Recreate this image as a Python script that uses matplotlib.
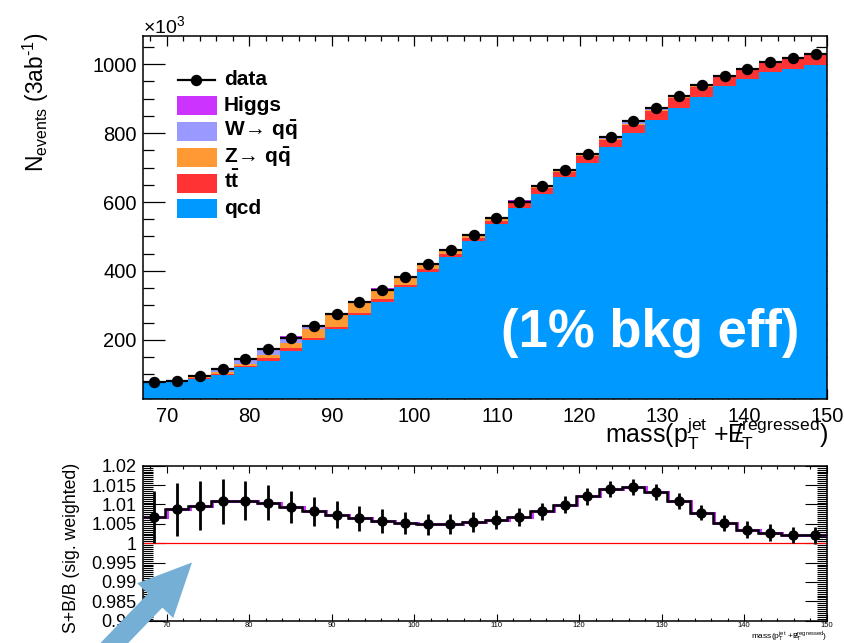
import matplotlib
matplotlib.use("Agg")
import numpy as np
import matplotlib.pyplot as plt
import matplotlib.transforms as mtransforms
from matplotlib.ticker import MultipleLocator, FuncFormatter
from matplotlib.patches import FancyArrow, Rectangle
from matplotlib.lines import Line2D

plt.rcParams["font.family"] = ["Liberation Sans", "DejaVu Sans"]
plt.rcParams["mathtext.fontset"] = "custom"
plt.rcParams["mathtext.rm"] = "Liberation Sans"
plt.rcParams["mathtext.it"] = "Liberation Sans:italic"
plt.rcParams["mathtext.bf"] = "Liberation Sans:bold"
plt.rcParams["mathtext.default"] = "regular"

# ---------------------------------------------------------------- binning
mass_lo, mass_hi, n_bins = 67.1, 150.0, 30

# ---------------------------------------------------------------- stacked yields (x10^3 events, 3 ab^-1)
qcd = [74.5, 77.5, 86.5, 99, 120, 139.5, 168, 198, 231, 271,
       310, 353, 397, 440, 487, 535, 583, 624, 672, 714,
       759, 801, 839, 874, 905, 936, 958, 978, 987, 999]
ttbar = [0.3, 0.5, 1.5, 3, 5, 6.5, 7, 6.5, 7, 6.5,
         7, 7, 8, 9, 8, 11, 13, 16, 14, 21,
         21, 23, 25, 28, 29, 26, 25, 28, 28, 29]
zqq = [0.3, 0.6, 2.5, 4.5, 6, 10, 17, 26, 33, 30,
       29, 23, 16, 13, 10, 6, 6, 5, 6, 3,
       3, 4, 3, 2, 2, 2, 2, 1, 1, 2]
wqq = [0.8, 1.2, 6.5, 11.5, 15.5, 18, 17, 11, 6, 4.5,
       2, 2, 1, 1, 1, 1, 1, 1, 1.5, 1,
       2, 3, 2, 1, 1, 1, 1, 1, 1, 1]
higgs = [0.2, 0.3, 0.4, 0.5, 0.6, 0.7, 0.8, 0.8, 0.9, 0.9,
         0.9, 0.9, 1.0, 1.0, 1.0, 1.0, 2.0, 2.5, 3.0, 4.0,
         7.0, 8.0, 8.0, 5.0, 4.0, 3.0, 2.0, 1.5, 1.0, 1.0]
data = [76, 79.5, 94.5, 114, 143, 172, 206, 239, 274, 310,
        345, 382, 419, 461, 503, 553, 601, 646, 694, 740,
        788, 834, 874, 907, 939, 966, 987, 1007, 1019, 1031]

# ---------------------------------------------------------------- S+B/B (signal weighted)
ratio = [1.0068, 1.0088, 1.0097, 1.0108, 1.0110, 1.0105, 1.0093, 1.0082, 1.0074, 1.0064,
         1.0057, 1.0052, 1.0049, 1.0050, 1.0055, 1.0061, 1.0068, 1.0082, 1.0099, 1.0121,
         1.0140, 1.0145, 1.0133, 1.0109, 1.0079, 1.0052, 1.0035, 1.0027, 1.0021, 1.0020]
ratio_err = [0.00675, 0.00684, 0.00637, 0.00577, 0.00513, 0.00457, 0.00406, 0.00376, 0.00346, 0.00325,
             0.0030, 0.0029, 0.00274, 0.00265, 0.0026, 0.00244, 0.00235, 0.00222, 0.00222, 0.00218,
             0.00214, 0.0020, 0.00205, 0.00205, 0.0019, 0.0020, 0.00214, 0.00214, 0.00205, 0.00214]

# stack order bottom -> top
stack_labels = ["qcd", r"t$\mathbf{\bar{t}}$", r"Z$\!\rightarrow\!$ q$\mathbf{\bar{q}}$",
                r"W$\!\rightarrow\!$ q$\mathbf{\bar{q}}$", "Higgs"]
stack_colors = ["#0099ff", "#ff3333", "#ff9933", "#9999ff", "#cc33ff"]

W, H = 845, 643
fig = plt.figure(figsize=(W / 100, H / 100), dpi=100)
fig.patch.set_facecolor("white")


def fx(x):
    return x / W


def fy(y):
    return 1 - y / H


edges = np.linspace(mass_lo, mass_hi, n_bins + 1)
centers = 0.5 * (edges[1:] + edges[:-1])
half_w = 0.5 * np.diff(edges)

# ================================================================ upper pad
ax = fig.add_axes([fx(142.7), fy(399), fx(827.3) - fx(142.7), fy(35.7) - fy(399)])
ax.set_axisbelow(True)

layers = [qcd, ttbar, zqq, wqq, higgs]
cumulative = np.cumsum(np.array(layers, dtype=float), axis=0)
# draw cumulative sums from the top down so that neighbours share no seam
for k in range(len(layers) - 1, -1, -1):
    ax.stairs(cumulative[k], edges, baseline=0, fill=True,
              color=stack_colors[k], lw=0, zorder=1 + (len(layers) - k) * 0.01)

ax.errorbar(centers, data, xerr=half_w, fmt="o", color="black", ms=7.2,
            elinewidth=1.6, capsize=0, zorder=5)

ax.set_xlim(mass_lo, mass_hi)
ax.set_ylim(28, 1083)
ax.xaxis.set_major_locator(MultipleLocator(10))
ax.xaxis.set_minor_locator(MultipleLocator(2))
ax.yaxis.set_major_locator(MultipleLocator(200))
ax.yaxis.set_minor_locator(MultipleLocator(50))
ax.tick_params(which="both", direction="in", top=True, right=True, width=0.9,
               labelsize=14.5)
ax.tick_params(axis="y", which="major", length=16, pad=4.3)
ax.tick_params(axis="y", which="minor", length=8)
ax.tick_params(axis="x", which="major", length=7.5, pad=6)
ax.tick_params(axis="x", which="minor", length=3.5)
ax.set_yticks([200, 400, 600, 800, 1000])
for sp in ax.spines.values():
    sp.set_linewidth(1.1)

ax.text(0.742, 0.182, "(1% bkg eff)", transform=ax.transAxes, color="white",
        fontsize=38, fontweight="bold", ha="center", va="center", zorder=6)

fig.text(fx(143), fy(33), r"$\times$10$^{3}$", fontsize=14, ha="left", va="baseline")
fig.text(fx(36), fy(33), r"N$_{events}$ (3ab$^{\text{-}1}$)", fontsize=16.4,
         rotation=90, ha="center", va="top")
fig.text(fx(829), fy(443), r"mass(p$_{T}^{jet}$ +E$\!\!\!/_{T}^{regressed}$)",
         fontsize=18, ha="right", va="baseline")

# legend
fig.add_artist(Line2D([fx(178), fx(215)], [fy(80), fy(80)], color="black", lw=1.6,
                      transform=fig.transFigure))
fig.add_artist(Line2D([fx(196.5)], [fy(80)], marker="o", ms=7.2, color="black",
                      transform=fig.transFigure))
fig.text(fx(224), fy(85), "data", fontsize=15, fontweight="bold", ha="left", va="baseline")
legend_rows = [(105.5, 4), (131, 3), (157, 2), (183, 1), (209, 0)]
for yc, k in legend_rows:
    fig.add_artist(Rectangle((fx(177), fy(yc + 9.5)), fx(40), 19 / H,
                             facecolor=stack_colors[k], edgecolor="none",
                             transform=fig.transFigure))
    fig.text(fx(224), fy(yc + 5.5), stack_labels[k], fontsize=15, fontweight="bold",
             ha="left", va="baseline")

# ================================================================ ratio pad
ax2 = fig.add_axes([fx(142.7), fy(620.7), fx(826.7) - fx(142.7), fy(465.7) - fy(620.7)])
ax2.axhline(1.0, color="red", lw=0.9, zorder=2)
shift = mtransforms.offset_copy(ax2.transData, fig=fig, x=1.3, y=0, units="dots")
ax2.stairs(ratio, edges, baseline=None, color="#cc33ff", lw=2.2, transform=shift, zorder=3)
ax2.stairs(ratio, edges, baseline=None, color="black", lw=1.8, zorder=4)
ax2.errorbar(centers, ratio, yerr=ratio_err, fmt="o", color="black", ms=6.5,
             elinewidth=2.0, capsize=0, zorder=5)
ax2.set_xlim(mass_lo, mass_hi)
ax2.set_ylim(0.98, 1.02)
ax2.xaxis.set_major_locator(MultipleLocator(10))
ax2.xaxis.set_minor_locator(MultipleLocator(2))
ax2.yaxis.set_major_locator(MultipleLocator(0.005))
ax2.yaxis.set_minor_locator(MultipleLocator(0.0005))
ax2.yaxis.set_major_formatter(FuncFormatter(lambda v, p: "%g" % round(v, 4)))
ax2.tick_params(which="both", direction="in", top=True, right=True, width=0.8)
ax2.tick_params(axis="y", which="major", length=16, labelsize=13, pad=4.3)
ax2.tick_params(axis="y", which="minor", length=7)
ax2.tick_params(axis="x", which="major", length=5, labelsize=5.5, pad=1.2)
ax2.tick_params(axis="x", which="minor", length=2.5)
for sp in ax2.spines.values():
    sp.set_linewidth(1.1)

fig.text(fx(72), fy(548), "S+B/B (sig. weighted)", fontsize=12.7, rotation=90,
         ha="center", va="center")
fig.text(fx(827), fy(640), r"mass(p$_{T}^{jet}$ +E$\!\!\!/_{T}^{regressed}$)",
         fontsize=6, ha="right", va="baseline")

# pointer arrow
to_fig = mtransforms.Affine2D().scale(1 / W, 1 / H) + fig.transFigure
arrow = FancyArrow(96, H - 662, 96, 99.5, width=20, head_width=50, head_length=53,
                   length_includes_head=True, color="#75afd5", lw=0,
                   transform=to_fig, zorder=20)
fig.add_artist(arrow)

fig.savefig("out.png", dpi=100, facecolor="white")
